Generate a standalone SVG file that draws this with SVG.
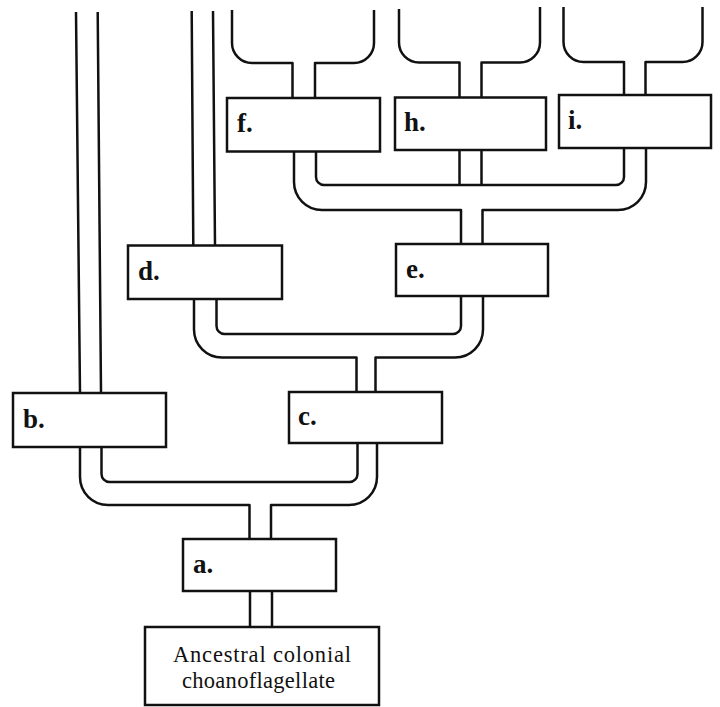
<svg xmlns="http://www.w3.org/2000/svg" width="720" height="707" viewBox="0 0 720 707">
<style>
.ln{fill:none;stroke:#111;stroke-width:2.5;stroke-linejoin:round;stroke-linecap:butt}
.box{fill:#fff;stroke:#111;stroke-width:2.5}
.lbl{font-family:"Liberation Serif","Times New Roman",serif;font-weight:bold;font-size:27px;fill:#111}
.txt{font-family:"Liberation Serif","Times New Roman",serif;font-size:22.5px;fill:#111}
</style>
<rect width="720" height="707" fill="#fff"/>
<g id="connectors">
<!-- ancestral to a -->
<path class="ln" d="M250 591 V627 M272 591 V627"/>
<!-- a to b, c -->
<path class="ln" d="M249.5 539 V505 H108 A28 28 0 0 1 80 477 V447"/>
<path class="ln" d="M271 539 V505 H349 A28 28 0 0 0 377 477 V443"/>
<path class="ln" d="M101.5 447 V474 A8 8 0 0 0 109.5 482 H349.5 A8 8 0 0 0 357.5 474 V443"/>
<!-- b upward -->
<path class="ln" d="M76 12 L80 393 M97.7 12 L101 393"/>
<!-- c to d, e -->
<path class="ln" d="M356.5 392 V357.5 H222 A28 28 0 0 1 194 329.5 V299"/>
<path class="ln" d="M375.5 392 V357.5 H455 A28 28 0 0 0 483 329.5 V296"/>
<path class="ln" d="M216.5 299 V326 A8 8 0 0 0 224.5 334 H453 A8 8 0 0 0 461 326 V296"/>
<!-- d upward -->
<path class="ln" d="M191.7 11 L193.3 245.5 M213 11 L215 245.5"/>
<!-- e to f, h, i -->
<path class="ln" d="M461 244 V210 H322 A28 28 0 0 1 294 182 V151.5"/>
<path class="ln" d="M482.5 244 V210 H618 A28 28 0 0 0 646 182 V147.5"/>
<path class="ln" d="M316 151.5 V177 A8 8 0 0 0 324 185 H616 A8 8 0 0 0 624 177 V147.5"/>
<path class="ln" d="M459.5 150 V185 M481.5 150 V185"/>
<!-- tops -->
<path class="ln" d="M292.5 98 V63 H252 A20 20 0 0 1 232 43 V10"/>
<path class="ln" d="M315 98 V63 H354 A20 20 0 0 0 374 43 V10"/>
<path class="ln" d="M459.5 97.5 V62.5 H419 A20 20 0 0 1 399 42.5 V9"/>
<path class="ln" d="M481.5 97.5 V62.5 H520 A20 20 0 0 0 540 42.5 V7"/>
<path class="ln" d="M624 95 V62 H583.5 A20 20 0 0 1 563.5 42 V7"/>
<path class="ln" d="M645.5 95 V62 H682.5 A20 20 0 0 0 702.5 42 V7"/>
</g>
<g id="ancestor">
<rect class="box" x="145" y="627" width="234" height="78"/>
<text class="txt" x="173" y="661.5" textLength="178" lengthAdjust="spacing">Ancestral colonial</text>
<text class="txt" x="182" y="687.5" textLength="153" lengthAdjust="spacing">choanoflagellate</text>
</g>
<g id="node-a"><rect class="box" x="183" y="539" width="153" height="52"/><text class="lbl" x="193" y="573">a.</text></g>
<g id="node-b"><rect class="box" x="13" y="393" width="153" height="54"/><text class="lbl" x="23" y="428">b.</text></g>
<g id="node-c"><rect class="box" x="289" y="392" width="153" height="51"/><text class="lbl" x="298" y="425">c.</text></g>
<g id="node-d"><rect class="box" x="128" y="245.5" width="154" height="53.5"/><text class="lbl" x="138" y="280">d.</text></g>
<g id="node-e"><rect class="box" x="396" y="244" width="152" height="52"/><text class="lbl" x="406" y="278">e.</text></g>
<g id="node-f"><rect class="box" x="227" y="98" width="153" height="53.5"/><text class="lbl" x="237" y="132">f.</text></g>
<g id="node-h"><rect class="box" x="395" y="97.5" width="151" height="52.5"/><text class="lbl" x="404" y="131">h.</text></g>
<g id="node-i"><rect class="box" x="559" y="95" width="152" height="53"/><text class="lbl" x="568" y="128.5">i.</text></g>
</svg>
